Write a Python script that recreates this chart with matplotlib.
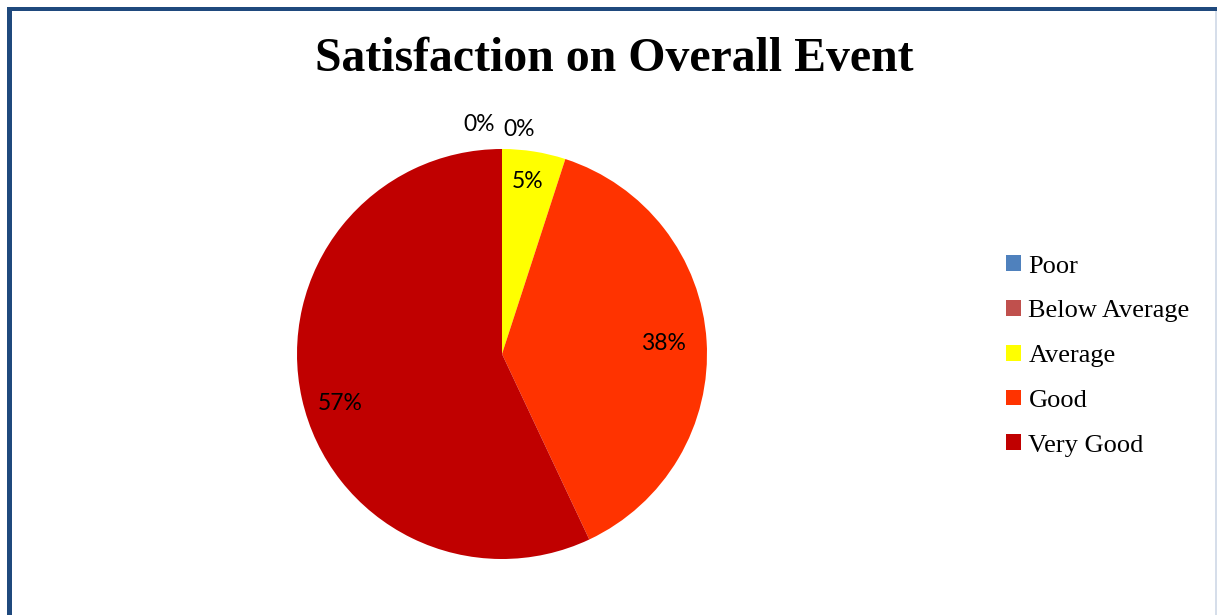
import numpy as np
import matplotlib.pyplot as plt
from matplotlib.patches import Rectangle, Patch

# Data
categories = ["Poor", "Below Average", "Average", "Good", "Very Good"]
shares = [0, 0, 5, 38, 57]
colors = ["#4F81BD", "#C0504D", "#FFFF00", "#FF3300", "#C00000"]

W, H = 1217, 615
fig = plt.figure(figsize=(W / 100, H / 100), dpi=100)
fig.patch.set_facecolor("white")

# frame lines of the chart box
fig.patches.append(Rectangle((7 / W, 0), 5 / W, 1 - 7 / H, transform=fig.transFigure,
                             facecolor="#1F497D", edgecolor="none"))
fig.patches.append(Rectangle((7 / W, 1 - 11 / H), 1 - 7 / W, 4 / H, transform=fig.transFigure,
                             facecolor="#1F497D", edgecolor="none"))
fig.patches.append(Rectangle((1215 / W, 0), 2 / W, 1 - 11 / H, transform=fig.transFigure,
                             facecolor="#D6DEEA", edgecolor="none"))

fig.text(614 / W, 1 - 59 / H, "Satisfaction on Overall Event", ha="center", va="center",
         fontsize=34.4, fontweight="bold", family="Liberation Serif")

# pie axes: center ~(502,354) px, radius ~205 px
cx, cy, r = 502, 354, 205
ax = fig.add_axes([(cx - r) / W, (H - cy - r) / H, 2 * r / W, 2 * r / H])
wedges, _ = ax.pie(shares, colors=colors, startangle=90, counterclock=False,
                   radius=1, wedgeprops=dict(linewidth=0))
ax.set_xlim(-1, 1)
ax.set_ylim(-1, 1)
ax.set_aspect("equal")
ax.axis("off")

label_font = dict(fontsize=16.5, family=["Lato", "DejaVu Sans"], color="black",
                  ha="center", va="center")
# zero slices get pushed outside, the 57% label sits a bit lower than the mid angle
zero_pos = [(-0.11, 1.12), (0.085, 1.095)]
nudge = [0, 0, 0, 0, -0.065]
zi = 0
for w, v, dy in zip(wedges, shares, nudge):
    if v == 0:
        x, y = zero_pos[zi]
        zi += 1
    else:
        ang = np.deg2rad((w.theta1 + w.theta2) / 2)
        d = 0.85 if v < 10 else 0.8
        x, y = d * np.cos(ang) - 0.01, d * np.sin(ang) + dy
    ax.text(x, y, f"{v}%", **label_font)

handles = [Patch(facecolor=c, edgecolor="none") for c in colors]
fig.legend(handles, categories, loc="center left", bbox_to_anchor=(1006 / W, 1 - 356 / H),
           frameon=False, prop={"family": "Liberation Serif", "size": 19},
           handlelength=0.55, handleheight=0.55, handletextpad=0.3, labelspacing=0.85,
           borderpad=0, borderaxespad=0)

fig.savefig("out.png", dpi=100)
